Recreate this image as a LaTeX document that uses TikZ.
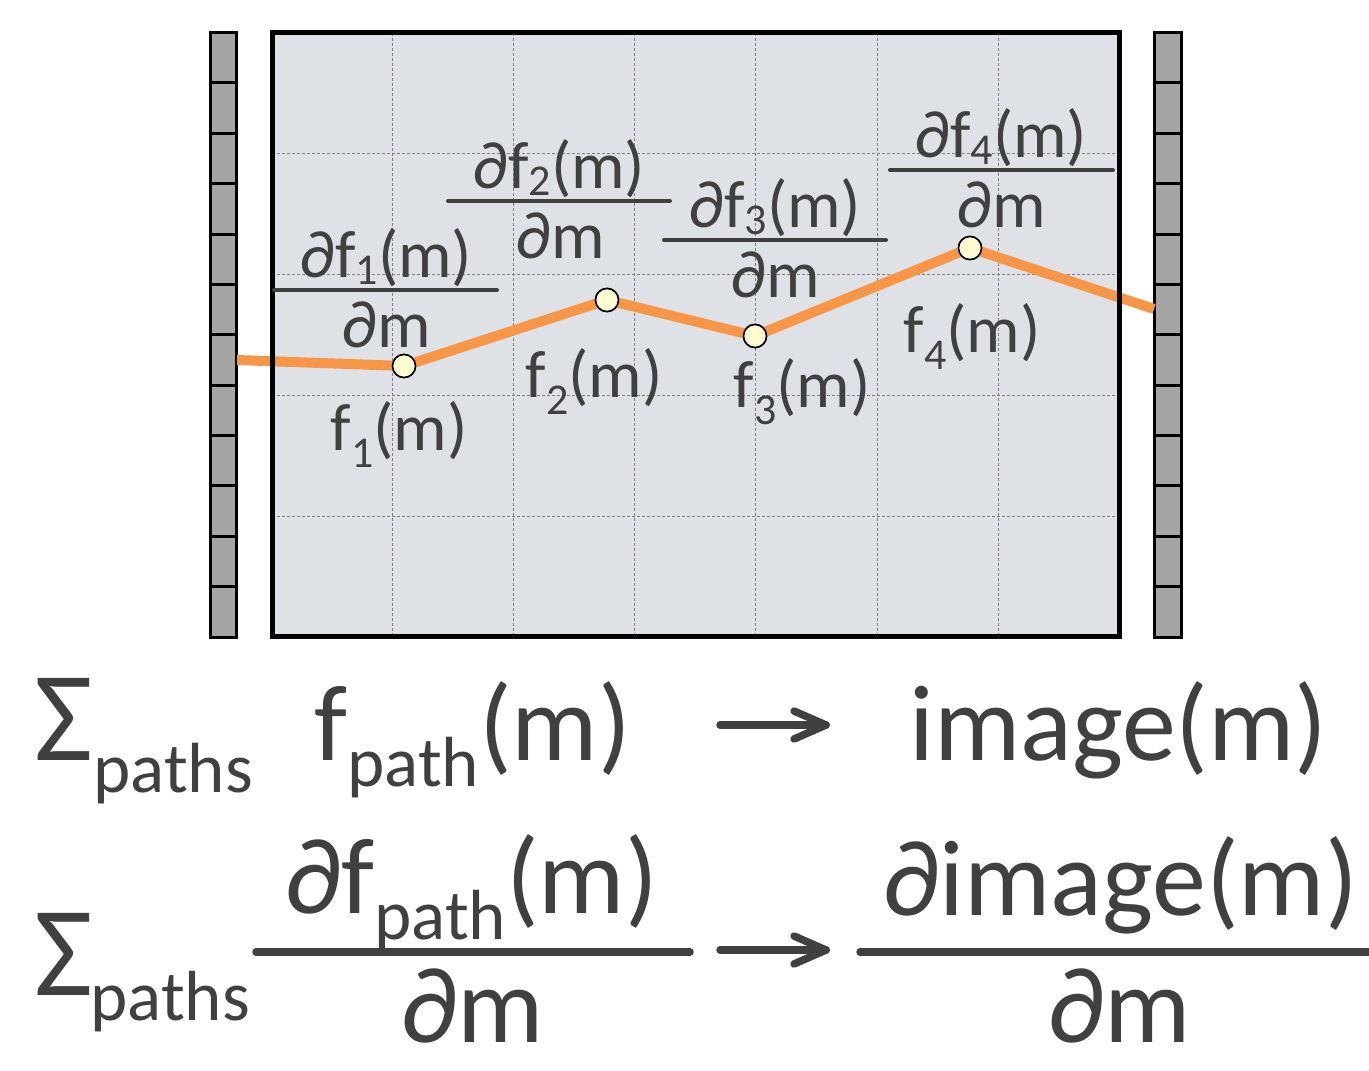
\documentclass[tikz,border=0pt]{standalone}
\usepackage{fontspec}
\setmainfont{Carlito}
\usetikzlibrary{calc}
\definecolor{txt}{HTML}{404040}
\definecolor{boxfill}{HTML}{DEE1E5}
\definecolor{barfill}{HTML}{A5A5A5}
\definecolor{pathorange}{HTML}{F79646}
\definecolor{dotfill}{HTML}{FFFCD2}
\newcommand{\fsz}[1]{\fontsize{#1}{#1}\selectfont}
\newcommand{\ssub}[1]{\raisebox{-8.5pt}{\fsz{22pt}#1}}
\newcommand{\nsub}[1]{\raisebox{-3.5pt}{\fsz{22pt}#1}}
\newcommand{\bsub}[1]{\raisebox{-13pt}{\fsz{35.5pt}#1}}
\tikzset{
  lbl/.style={text=txt, font=\fsz{33.5pt}, inner sep=0pt, anchor=base},
  big/.style={text=txt, font=\fsz{54pt}, inner sep=0pt},
  sigma/.style={text=txt, font=\fsz{64pt}, inner sep=0pt, anchor=base west},
  subbig/.style={text=txt, font=\fsz{35.5pt}, inner sep=0pt, anchor=base west},
  fracbar/.style={draw=txt, line width=2pt, line cap=round},
  bigbar/.style={draw=txt, line width=3.75pt, line cap=round},
  arrowline/.style={draw=txt, line width=3.75pt, line cap=round, line join=round},
  gridline/.style={draw=gray, line width=0.5pt, dash pattern=on 1.5pt off 1pt},
  dot/.style={circle, draw=black, line width=0.8pt, fill=dotfill, minimum size=11.5pt, inner sep=0pt},
  sidebar/.style={draw=black, line width=1.5pt, fill=barfill},
}
\begin{document}
\begin{tikzpicture}[x=0.5pt, y=-0.5pt]
\path[use as bounding box] (0,0) rectangle (1369,1070);
% side bars
\foreach \i in {0,...,11} {
  \draw[sidebar] (210,{32.5+\i*50.375}) rectangle (236.5,{32.5+(\i+1)*50.375});
  \draw[sidebar] (1154.5,{32.5+\i*50.375}) rectangle (1181,{32.5+(\i+1)*50.375});
}
% box fill and grid
\fill[boxfill] (272,33) rectangle (1119,636);
\foreach \x in {392,513,634,755,877,998} \draw[gridline] (\x,33) -- (\x,636);
\foreach \y in {153,274,395,516} \draw[gridline] (272,\y) -- (1119,\y);
% orange path
\coordinate (pl) at (237,360);
\coordinate (pr) at (1154,309);
\node[dot] (n1) at (404,366) {};
\node[dot] (n2) at (607,300) {};
\node[dot] (n3) at (755,336) {};
\node[dot] (n4) at (970,248) {};
\draw[pathorange, line width=5pt] (pl) -- (n1.center) -- (n2.center) -- (n3.center) -- (n4.center) -- (pr);
\draw[black, line width=2.5pt] (272,33) rectangle (1119,636);
\foreach \n in {n1,n2,n3,n4} \node[dot] at (\n) {};
% small fractions
\node[lbl] (num1) at (386,277) {∂f\nsub{1}(m)};
\draw[fracbar] (274,290) -- (497,290);
\node[lbl] (den1) at (386,347) {∂m};
\node[lbl] (num2) at (559,188) {∂f\nsub{2}(m)};
\draw[fracbar] (448,201) -- (670,201);
\node[lbl] (den2) at (560,258) {∂m};
\node[lbl] (num3) at (775,227) {∂f\nsub{3}(m)};
\draw[fracbar] (664,240) -- (886,240);
\node[lbl] (den3) at (775,297) {∂m};
\node[lbl] (num4) at (1001,157) {∂f\nsub{4}(m)};
\draw[fracbar] (890,170) -- (1113,170);
\node[lbl] (den4) at (1001,227) {∂m};
% value labels
\node[lbl] (f1) at (399,450) {f\ssub{1}(m)};
\node[lbl] (f2) at (594,397) {f\ssub{2}(m)};
\node[lbl] (f3) at (802,407) {f\ssub{3}(m)};
\node[lbl] (f4) at (972,352) {f\ssub{4}(m)};
% bottom row 1
\node[sigma] (sig1) at (34,760) {Σ};
\node[subbig] (paths1) at (93,792) {paths};
\node[big, anchor=base west] (fpath) at (314,760) {f\bsub{path}(m)};
\coordinate (a1s) at (720,725);
\coordinate (a1e) at (826,725);
\draw[arrowline] (a1s) -- (a1e);
\draw[arrowline] ($(a1e)+(-32,-14)$) -- (a1e) -- ($(a1e)+(-32,14)$);
\node[big, anchor=base west] (img) at (909,760) {image(m)};
% bottom row 2
\node[sigma] (sig2) at (34,995) {Σ};
\node[subbig] (paths2) at (90,1020) {paths};
\node[big, anchor=base] (numL) at (471,913) {∂f\bsub{path}(m)};
\draw[bigbar] (256,952) -- (690,952);
\node[big, anchor=base] (denL) at (472,1042) {∂m};
\coordinate (a2s) at (720,950);
\coordinate (a2e) at (826,950);
\draw[arrowline] (a2s) -- (a2e);
\draw[arrowline] ($(a2e)+(-32,-14)$) -- (a2e) -- ($(a2e)+(-32,14)$);
\node[big, anchor=base] (numR) at (1120,915) {∂image(m)};
\draw[bigbar] (860,952) -- (1375,952);
\node[big, anchor=base] (denR) at (1119,1042) {∂m};
\end{tikzpicture}
\end{document}
